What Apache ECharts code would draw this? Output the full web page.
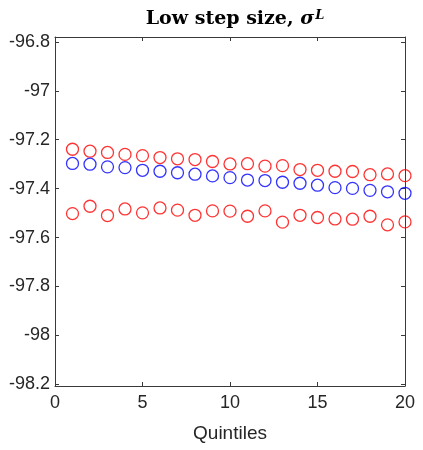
<!DOCTYPE html>
<html>
<head>
<meta charset="utf-8">
<script src="https://cdn.jsdelivr.net/npm/echarts@6/dist/echarts.min.js"></script>
<style>
  html, body { margin: 0; padding: 0; background: #fff; }
  #chart { width: 423px; height: 450px; }
</style>
</head>
<body>
<div id="chart"></div>
<script>
// Quintile index along the x axis
const quintiles = [1, 2, 3, 4, 5, 6, 7, 8, 9, 10, 11, 12, 13, 14, 15, 16, 17, 18, 19, 20];

// Upper band (red)
const upperBand = [-97.239, -97.247, -97.252, -97.260, -97.265, -97.273, -97.278, -97.281, -97.289, -97.299,
                   -97.298, -97.308, -97.306, -97.322, -97.325, -97.329, -97.330, -97.343, -97.340, -97.347];
// Point estimate (blue)
const estimate = [-97.297, -97.300, -97.311, -97.314, -97.325, -97.329, -97.335, -97.341, -97.348, -97.355,
                  -97.365, -97.367, -97.374, -97.378, -97.386, -97.396, -97.399, -97.407, -97.413, -97.419];
// Lower band (red)
const lowerBand = [-97.502, -97.472, -97.510, -97.483, -97.499, -97.479, -97.488, -97.509, -97.491, -97.492,
                   -97.513, -97.491, -97.537, -97.509, -97.518, -97.524, -97.525, -97.513, -97.548, -97.536];

// Tick values
const xTicks = [0, 5, 10, 15, 20];
const yTicks = [-96.8, -97, -97.2, -97.4, -97.6, -97.8, -98, -98.2];

const axisColor = '#3a3a3a';
const textColor = '#262626';

function pairs(ys) {
  return quintiles.map((x, i) => [x, ys[i]]);
}

function circles(name, ys, color) {
  return {
    name: name,
    type: 'scatter',
    data: pairs(ys),
    symbol: 'circle',
    symbolSize: 12,
    itemStyle: { color: 'rgba(0,0,0,0)', borderColor: color, borderWidth: 1.3 },
    emphasis: { disabled: true },
    silent: true
  };
}

const chart = echarts.init(document.getElementById('chart'), null, { renderer: 'canvas' });

const yBase = {
  type: 'value',
  min: -98.207,
  max: -96.780,
  splitLine: { show: false },
  axisLine: { show: true, onZero: false, lineStyle: { color: axisColor, width: 1 } },
  axisTick: { show: true, inside: true, length: 4, customValues: yTicks, lineStyle: { color: axisColor } }
};

const xBase = {
  type: 'value',
  min: 0,
  max: 20,
  interval: 5,
  splitLine: { show: false },
  axisLine: { show: true, onZero: false, lineStyle: { color: axisColor, width: 1 } },
  axisTick: { show: true, inside: true, length: 4, lineStyle: { color: axisColor } }
};

chart.setOption({
  animation: false,
  backgroundColor: '#ffffff',
  title: {
    text: '{b|Low step size, }{s|σ}{sup|L}',
    left: 230,
    textAlign: 'center',
    top: 4,
    textStyle: {
      rich: {
        b: { fontFamily: 'DejaVu Serif', fontWeight: 'bold', fontSize: 19, color: '#000' },
        s: { fontFamily: 'DejaVu Serif', fontStyle: 'italic', fontSize: 19, color: '#000' },
        sup: { fontFamily: 'DejaVu Serif', fontStyle: 'italic', fontSize: 13, color: '#000', verticalAlign: 'top', padding: [0, 0, 8, 1] }
      }
    }
  },
  grid: { left: 55, right: 18, top: 37, bottom: 64, outerBoundsMode: 'none' },
  xAxis: [
    Object.assign({}, xBase, {
      position: 'bottom',
      name: 'Quintiles',
      nameLocation: 'middle',
      nameGap: 38,
      nameTextStyle: { fontFamily: 'Liberation Sans', fontSize: 19, color: textColor },
      axisLabel: { fontFamily: 'Liberation Sans', fontSize: 18, color: textColor, margin: 8,
                   customValues: xTicks }
    }),
    Object.assign({}, xBase, { position: 'top', axisLabel: { show: false } })
  ],
  yAxis: [
    Object.assign({}, yBase, {
      position: 'left',
      axisLabel: { fontFamily: 'Liberation Sans', fontSize: 18, color: textColor, margin: 5,
                   customValues: yTicks, formatter: v => String(Math.round(v * 10) / 10) }
    }),
    Object.assign({}, yBase, { position: 'right', axisLabel: { show: false } })
  ],
  series: [
    circles('upper', upperBand, '#ff0000'),
    circles('estimate', estimate, '#0000ff'),
    circles('lower', lowerBand, '#ff0000')
  ]
});
</script>
</body>
</html>
